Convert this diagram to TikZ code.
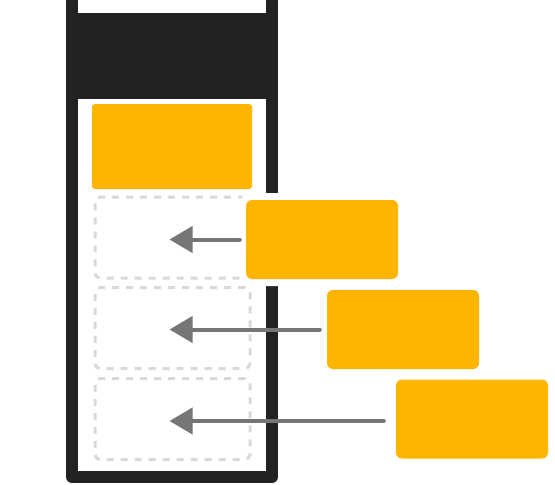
\documentclass[tikz,border=0pt]{standalone}
\usetikzlibrary{arrows.meta}
\definecolor{amber}{HTML}{FFB400}
\definecolor{phonebody}{HTML}{222222}
\definecolor{slotgray}{HTML}{D9D9D9}
\definecolor{arrowgray}{HTML}{767676}
\begin{document}
\begin{tikzpicture}
[x=1pt, y=-1pt]
\tikzstyle{card}=[rectangle, fill=amber, rounded corners=6pt, inner sep=0pt, minimum width=152pt, minimum height=79pt, preaction={draw=white, line width=14pt}]
\tikzstyle{slot}=[rectangle, draw=slotgray, line width=3pt, dash pattern=on 7pt off 7pt, rounded corners=5pt, inner sep=0pt, minimum width=155pt, minimum height=81pt]
\tikzstyle{push}=[draw=arrowgray, line width=4pt, line cap=round, -{Triangle[length=23pt, width=26pt]}]
\useasboundingbox (0,0) rectangle (555,485);

% phone
\draw[phonebody, line width=12pt, line join=round] (72,-20) -- (72,477) -- (272,477) -- (272,-20);
\fill[phonebody] (72,13) rectangle (272,99);

\node[rectangle, fill=amber, rounded corners=3pt, inner sep=0pt, minimum width=160pt, minimum height=85pt] (header) at (172,146.5) {};
\node[slot] (slotA) at (172.5,237.5) {};
\node[slot] (slotB) at (172.5,328) {};
\node[slot] (slotC) at (172.5,419) {};

\node[card] (cardA) at (322,239.5) {};
\node[card] (cardB) at (403,329.5) {};
\node[card] (cardC) at (472,419) {};

\draw[push, shorten <=6pt, shorten >=-3pt] (cardA.west) -- (slotA.center |- cardA.west);
\draw[push, shorten <=7pt, shorten >=-3pt] (cardB.west) -- (slotB.center |- cardB.west);
\draw[push, shorten <=12pt, shorten >=-3pt] ([yshift=-2pt]cardC.west) coordinate (startC) -- (slotC.center |- startC);
\end{tikzpicture}
\end{document}
